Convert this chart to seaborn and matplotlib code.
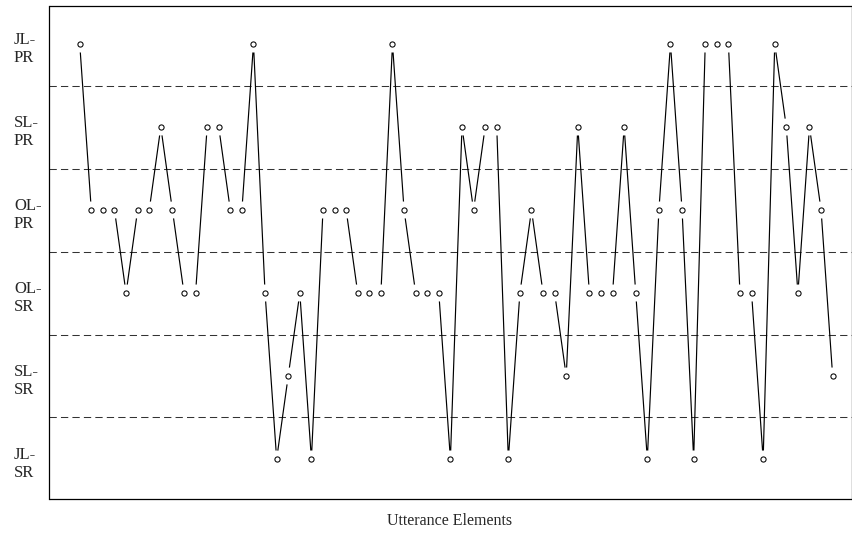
import numpy as np
import pandas as pd
import seaborn as sns
import matplotlib.pyplot as plt
from matplotlib.transforms import ScaledTranslation

# levels: 0=JL-SR, 1=SL-SR, 2=OL-SR, 3=OL-PR, 4=SL-PR, 5=JL-PR
level_labels = ["JL-\nSR", "SL-\nSR", "OL-\nSR", "OL-\nPR", "SL-\nPR", "JL-\nPR"]
levels = [5, 3, 3, 3, 2, 3, 3, 4, 3, 2, 2, 4, 4, 3, 3, 5, 2, 0, 1, 2, 0, 3,
          3, 3, 2, 2, 2, 5, 3, 2, 2, 2, 0, 4, 3, 4, 4, 0, 2, 3, 2, 2, 1, 4, 2,
          2, 2, 4, 2, 0, 3, 5, 3, 0, 5, 5, 5, 2, 2, 0, 5, 4, 2, 4, 3, 1]
element = list(range(len(levels)))

df = pd.DataFrame({"element": element, "level": levels})

sns.set_style("white")
plt.rcParams["font.family"] = ["Liberation Serif", "DejaVu Serif"]

fig = plt.figure(figsize=(8.53, 5.33), dpi=100)
ax = fig.add_axes([49.5 / 853, 34 / 533, 802.5 / 853, 493 / 533])

# separators between levels
for b in np.arange(0.5, 5, 1.0):
    ax.axhline(b, color="0.2", lw=0.75, dashes=(7, 4), zorder=1)

sns.lineplot(data=df, x="element", y="level", color="black", lw=0.85,
             ax=ax, zorder=2, sort=False)
# white gap around each point
sns.scatterplot(data=df, x="element", y="level", s=150, color="white",
                edgecolor="none", ax=ax, zorder=3)
sns.scatterplot(data=df, x="element", y="level", s=14, facecolor="white",
                edgecolor="black", linewidth=0.75, ax=ax, zorder=4)

ax.set_xlim(-2.61, 66.67)
ax.set_ylim(-0.482, 5.458)
ax.set_xticks([])
ax.set_yticks(range(6))
ax.set_yticklabels(level_labels, fontsize=12, ha="left", va="center",
                   linespacing=1.1)
ax.tick_params(axis="y", length=0, pad=25.6)
shift = ScaledTranslation(0, -5 / 100, fig.dpi_scale_trans)
for lab in ax.get_yticklabels():
    lab.set_transform(lab.get_transform() + shift)
ax.set_ylabel("")
ax.set_xlabel("Utterance Elements", fontsize=11.5, va="center")
ax.xaxis.set_label_coords(0.498, -22 / 493)
for sp in ax.spines.values():
    sp.set_color("black")
    sp.set_linewidth(0.9)

fig.savefig("out.png", dpi=100)
